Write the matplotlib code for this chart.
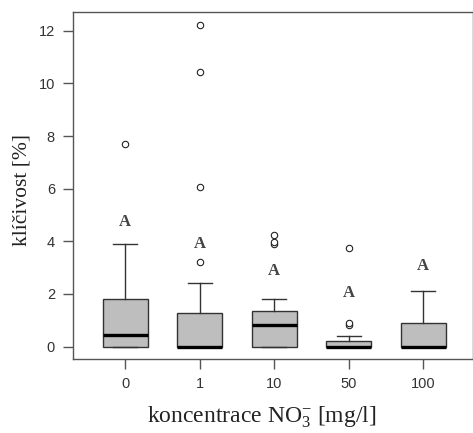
import matplotlib
matplotlib.use("Agg")
import matplotlib.pyplot as plt

categories = ["0", "1", "10", "50", "100"]
q1 = [0.0, 0.0, 0.0, 0.0, 0.0]
med = [0.46, 0.0, 0.84, 0.0, 0.0]
q3 = [1.80, 1.27, 1.34, 0.20, 0.89]
whislo = [0.0, 0.0, 0.0, 0.0, 0.0]
whishi = [3.90, 2.42, 1.80, 0.42, 2.12]
fliers = [[7.71], [3.23, 6.08, 10.44, 12.2], [3.91, 3.98, 4.25], [0.84, 0.91, 3.76], []]
letters = ["A", "A", "A", "A", "A"]
letter_y = [4.75, 3.89, 2.87, 2.03, 3.06]

plt.rcParams['mathtext.fontset'] = 'custom'
plt.rcParams['mathtext.rm'] = 'Liberation Serif'
plt.rcParams['mathtext.it'] = 'Liberation Serif:italic'

fig = plt.figure(figsize=(4.73, 4.33), dpi=100)
ax = fig.add_axes([73/473, (433-359)/433, (472.5-73)/473, (359-12.3)/433])

stats = []
for i, c in enumerate(categories):
    stats.append(dict(label=c, q1=q1[i], med=med[i], q3=q3[i],
                      whislo=whislo[i], whishi=whishi[i], fliers=fliers[i]))
pos = list(range(1, len(categories) + 1))
edge = '#333333'
ax.bxp(stats, positions=pos, widths=0.6, patch_artist=True, showcaps=True,
       boxprops=dict(facecolor='#bebebe', edgecolor=edge, linewidth=1.0),
       medianprops=dict(color='black', linewidth=2.4, solid_capstyle='butt'),
       whiskerprops=dict(color=edge, linewidth=1.0),
       capprops=dict(color=edge, linewidth=1.0),
       capwidths=0.32,
       flierprops=dict(marker='o', markerfacecolor='white', markeredgecolor='#222222',
                       markersize=4.6, markeredgewidth=0.8, linestyle='none'))

for p, l, y in zip(pos, letters, letter_y):
    ax.text(p, y, l, ha='center', va='center', fontsize=12,
            family='Liberation Serif', fontweight='bold', color='#444444')

ax.set_xlim(0.3, 5.66)
ax.set_ylim(-0.47, 12.7)
ax.set_yticks([0, 2, 4, 6, 8, 10, 12])
ax.set_xticks(pos)
ax.set_xticklabels(categories)
for s in ax.spines.values():
    s.set_color('#555555')
    s.set_linewidth(1.0)
ax.tick_params(direction='out', length=7, width=1.0, color='#555555',
               labelcolor='#333333', labelsize=10.5, pad=6)
for lab in ax.get_xticklabels() + ax.get_yticklabels():
    lab.set_family('Liberation Sans')

ax.set_ylabel('klíčivost [%]', family='Liberation Serif', fontsize=15.5, color='#222222')
ax.yaxis.set_label_coords(-0.105, 0.487)
ax.set_xlabel(r'koncentrace NO$_3^{\mathrm{-}}$ [mg/l]', family='Liberation Serif',
              fontsize=17, color='#222222', labelpad=10)
ax.xaxis.label.set_x(0.472)

fig.savefig('out.png', dpi=100)
